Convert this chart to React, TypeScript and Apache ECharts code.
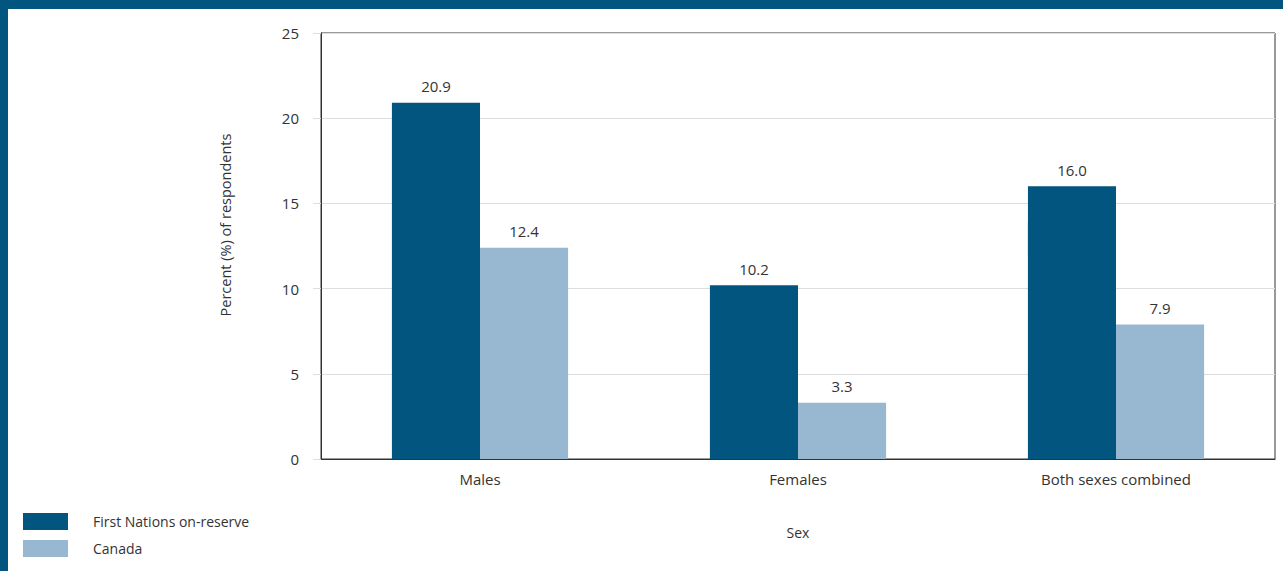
import React, { useEffect, useRef } from "react";
import * as echarts from "echarts";

// Share of respondents by sex, First Nations on-reserve vs. Canada
const categories = ["Males", "Females", "Both sexes combined"];
const firstNations = [20.9, 10.2, 16.0];
const canada = [12.4, 3.3, 7.9];
const seriesNames = ["First Nations on-reserve", "Canada"];
const yTicks = { min: 0, max: 25, interval: 5 };

const DARK = "#02557f";
const LIGHT = "#98b8d1";
const FONT = "'Open Sans', 'Noto Sans', sans-serif";

export default function App() {
  const ref = useRef<HTMLDivElement>(null);

  useEffect(() => {
    document.body.style.margin = "0";
    if (!ref.current) return;
    const chart = echarts.init(ref.current, undefined, { renderer: "svg" });

    const barLabel = {
      show: true,
      position: "top" as const,
      distance: 9,
      color: "#333",
      fontSize: 15,
      fontFamily: FONT,
      formatter: (p: any) => Number(p.value).toFixed(1),
    };

    chart.setOption({
      animation: false,
      backgroundColor: "#fff",
      textStyle: { fontFamily: FONT },
      grid: {
        left: 321,
        right: 8,
        top: 33,
        bottom: 112,
        show: true,
        borderColor: "#333",
        borderWidth: 1,
        containLabel: false,
      },
      legend: {
        orient: "vertical",
        left: 18,
        top: 508,
        icon: "rect",
        itemWidth: 45,
        itemHeight: 17,
        itemGap: 10,
        data: seriesNames,
        selectedMode: false,
        textStyle: {
          color: "#333",
          fontSize: 14,
          fontFamily: FONT,
          padding: [0, 0, 0, 20],
        },
      },
      xAxis: {
        type: "category",
        data: categories,
        name: "Sex",
        nameLocation: "middle",
        nameGap: 66,
        nameTextStyle: { color: "#333", fontSize: 14, fontFamily: FONT },
        axisLine: { show: true, lineStyle: { color: "#333", width: 1 } },
        axisTick: { show: false },
        axisLabel: { color: "#333", fontSize: 15, margin: 12, fontFamily: FONT },
      },
      yAxis: {
        type: "value",
        min: yTicks.min,
        max: yTicks.max,
        interval: yTicks.interval,
        axisLine: { show: true, lineStyle: { color: "#333", width: 1 } },
        axisTick: { show: true, length: 8, lineStyle: { color: "#ddd" } },
        axisLabel: { color: "#333", fontSize: 15, margin: 22, fontFamily: FONT },
        splitLine: { show: true, lineStyle: { color: "#ddd", width: 1 } },
      },
      series: [
        {
          name: seriesNames[0],
          type: "bar",
          data: firstNations,
          itemStyle: { color: DARK },
          barGap: "0%",
          barCategoryGap: "44.6%",
          label: barLabel,
        },
        {
          name: seriesNames[1],
          type: "bar",
          data: canada,
          itemStyle: { color: LIGHT },
          label: barLabel,
        },
      ],
      graphic: [
        { type: "rect", left: 0, top: 0, shape: { width: 1283, height: 9 }, style: { fill: DARK } },
        { type: "rect", left: 0, top: 0, shape: { width: 8, height: 571 }, style: { fill: DARK } },
        {
          type: "text",
          x: 225,
          y: 225,
          rotation: Math.PI / 2,
          style: {
            text: "Percent (%) of respondents",
            fill: "#333",
            fontSize: 14.5,
            fontFamily: FONT,
            align: "center",
            verticalAlign: "middle",
          },
        },
      ],
    });

    return () => chart.dispose();
  }, []);

  return <div ref={ref} style={{ width: 1283, height: 571 }} />;
}
